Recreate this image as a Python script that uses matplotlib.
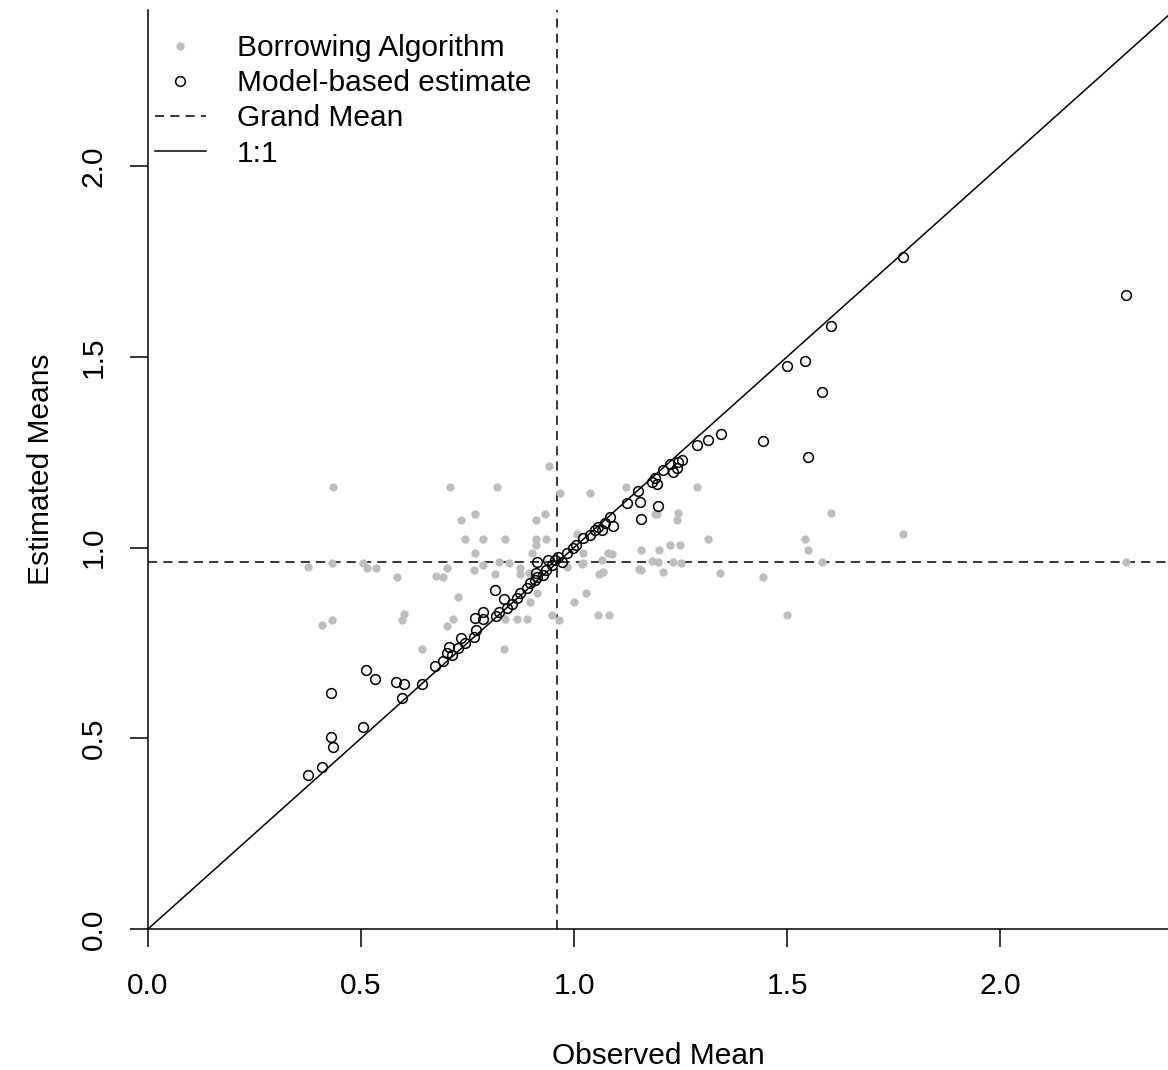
import matplotlib.pyplot as plt
import numpy as np

plt.rcParams['font.family'] = ['Liberation Sans', 'DejaVu Sans']

# Model-based estimates (open circles)
model_x = [0.376, 0.408, 0.430, 0.430, 0.434, 0.505, 0.512, 0.533, 0.582, 0.601,
           0.596, 0.643, 0.674, 0.692, 0.702, 0.707, 0.714, 0.728, 0.735, 0.744,
           0.765, 0.770, 0.768, 0.786, 0.786, 0.815, 0.817, 0.824, 0.836, 0.843,
           0.854, 0.866, 0.873, 0.890, 0.897, 0.908, 0.913, 0.911, 0.913, 0.927,
           0.934, 0.939, 0.948, 0.955, 0.962, 0.972, 0.984, 0.998, 1.005, 1.021,
           1.038, 1.049, 1.056, 1.066, 1.073, 1.085, 1.092, 1.124, 1.150, 1.155,
           1.157, 1.183, 1.190, 1.195, 1.197, 1.209, 1.225, 1.232, 1.242, 1.244,
           1.254, 1.289, 1.315, 1.345, 1.444, 1.500, 1.542, 1.582, 1.549, 1.603,
           1.772, 2.296]
model_y = [0.404, 0.425, 0.619, 0.503, 0.477, 0.529, 0.679, 0.655, 0.647, 0.642,
           0.605, 0.642, 0.689, 0.702, 0.723, 0.739, 0.718, 0.737, 0.763, 0.750,
           0.765, 0.784, 0.815, 0.813, 0.831, 0.889, 0.820, 0.831, 0.865, 0.841,
           0.852, 0.868, 0.881, 0.894, 0.907, 0.915, 0.962, 0.933, 0.923, 0.928,
           0.941, 0.967, 0.954, 0.967, 0.975, 0.962, 0.986, 0.999, 1.007, 1.025,
           1.033, 1.046, 1.054, 1.046, 1.064, 1.080, 1.056, 1.117, 1.148, 1.119,
           1.075, 1.172, 1.182, 1.166, 1.109, 1.203, 1.219, 1.198, 1.208, 1.224,
           1.229, 1.269, 1.282, 1.297, 1.279, 1.476, 1.489, 1.408, 1.237, 1.581,
           1.761, 1.662]

# Borrowing algorithm estimates (grey dots)
borrow_x = [0.434, 0.709, 0.819, 0.967, 1.038, 0.941, 1.122, 1.289, 0.768, 0.735,
            0.932, 0.911, 0.744, 0.786, 0.838, 0.911, 0.934, 0.911, 0.768, 0.901,
            1.007, 0.376, 0.432, 0.505, 0.514, 0.535, 0.585, 0.676, 0.692, 0.702,
            0.765, 0.786, 0.815, 0.824, 0.847, 0.873, 0.873, 0.894, 0.984, 1.021,
            0.728, 0.897, 0.913, 1.000, 1.028, 0.408, 0.432, 0.596, 0.601, 0.702,
            0.716, 0.838, 0.866, 0.890, 0.948, 0.965, 0.643, 0.836, 1.190, 1.195,
            1.244, 1.242, 1.315, 1.157, 1.200, 1.225, 1.249, 1.021, 1.080, 1.089,
            1.066, 1.019, 1.068, 1.059, 1.153, 1.183, 1.197, 1.232, 1.251, 1.209,
            1.343, 1.056, 1.082, 1.603, 1.772, 1.542, 1.549, 1.582, 1.157, 1.444,
            1.500, 2.296]
borrow_y = [1.159, 1.159, 1.159, 1.143, 1.143, 1.214, 1.159, 1.159, 1.088, 1.072,
            1.088, 1.072, 1.022, 1.022, 1.022, 1.022, 1.022, 1.007, 0.986, 0.986,
            1.035, 0.949, 0.959, 0.959, 0.946, 0.946, 0.923, 0.925, 0.923, 0.946,
            0.941, 0.954, 0.931, 0.962, 0.959, 0.946, 0.931, 0.933, 0.949, 0.959,
            0.870, 0.857, 0.881, 0.857, 0.881, 0.797, 0.810, 0.810, 0.826, 0.794,
            0.813, 0.813, 0.813, 0.813, 0.823, 0.810, 0.734, 0.734, 1.088, 1.088,
            1.090, 1.072, 1.022, 0.993, 0.993, 1.007, 1.007, 0.986, 0.986, 0.983,
            0.967, 0.957, 0.936, 0.931, 0.944, 0.965, 0.962, 0.962, 0.959, 0.936,
            0.933, 0.823, 0.823, 1.090, 1.035, 1.022, 0.993, 0.962, 0.941, 0.923,
            0.823, 0.962]

grand_mean = 0.961
ticks = [0.0, 0.5, 1.0, 1.5, 2.0]
tick_labels = ['0.0', '0.5', '1.0', '1.5', '2.0']

FS = 21.5

fig = plt.figure(figsize=(11.68, 10.70), dpi=100)
ax = fig.add_axes([148 / 1168, 1 - 929 / 1070, 1 - 148 / 1168, (929 - 10) / 1070])

ax.plot(borrow_x, borrow_y, 'o', color='#bebebe', markersize=6, markeredgewidth=0,
        label='Borrowing Algorithm', zorder=2)
ax.plot(model_x, model_y, 'o', markerfacecolor='none', markeredgecolor='black',
        markersize=7, markeredgewidth=1.1, label='Model-based estimate', zorder=3)
ax.axhline(grand_mean, color='black', linestyle=(0, (6, 4)), linewidth=1.1,
           label='Grand Mean', zorder=1)
ax.axvline(grand_mean, color='black', linestyle=(0, (6, 4)), linewidth=1.1, zorder=1)
line = np.array([0, 3])
ax.plot(line, line, color='black', linewidth=1.1, label='1:1', zorder=1)

ax.set_xlim(0, 2.394)
ax.set_ylim(0, 2.409)
ax.spines['top'].set_visible(False)
ax.spines['right'].set_visible(False)
ax.spines['left'].set_linewidth(1.1)
ax.spines['bottom'].set_linewidth(1.1)

ax.set_xticks(ticks)
ax.set_xticklabels(tick_labels)
ax.set_yticks(ticks)
ax.set_yticklabels(tick_labels, rotation=90, va='center')
ax.tick_params(axis='both', length=13, width=1.1, labelsize=FS)
ax.tick_params(axis='x', pad=18)
ax.tick_params(axis='y', pad=16)

ax.set_xlabel('Observed Mean', fontsize=FS, labelpad=30)
ax.set_ylabel('Estimated Means', fontsize=FS, labelpad=18)

ax.legend(loc='upper left', bbox_to_anchor=(155 / 1168, 1 - 34 / 1070),
          bbox_transform=fig.transFigure, frameon=False, fontsize=FS,
          borderpad=0, borderaxespad=0, handlelength=1.7, handletextpad=1.05,
          labelspacing=0.24, numpoints=1)

fig.savefig('out.png', dpi=100)
